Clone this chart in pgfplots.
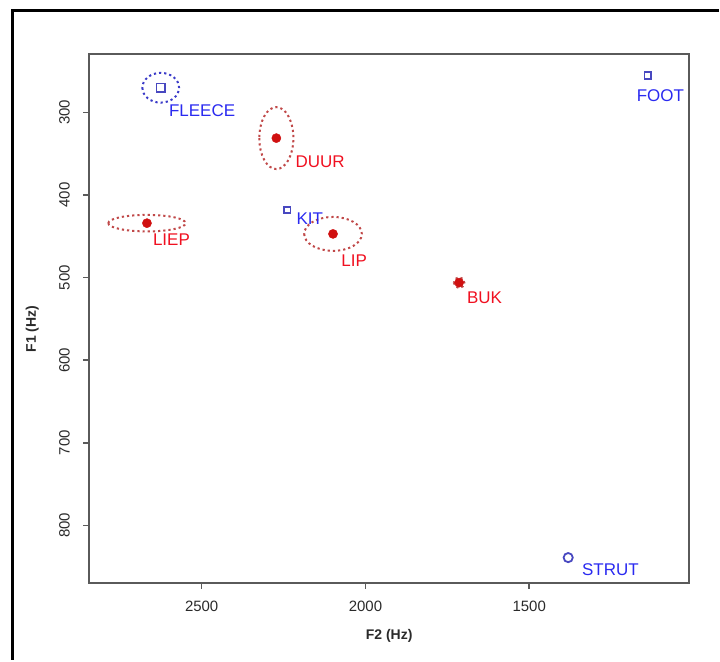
\documentclass[border=0pt]{standalone}
\usepackage{pgfplots}
\pgfplotsset{compat=1.18}
\usepackage{fontspec}
\setmainfont{Liberation Sans}
\definecolor{axgray}{HTML}{5A5A5A}
\definecolor{tickgray}{HTML}{2A2A2A}
\definecolor{lblue}{HTML}{2A2AF0}
\definecolor{lred}{HTML}{F01020}
\definecolor{mblue}{HTML}{4848C0}
\definecolor{mred}{HTML}{D01010}
\definecolor{eblue}{HTML}{3A3AC8}
\definecolor{ered}{HTML}{C04848}
\begin{document}
\begin{tikzpicture}[x=1pt,y=1pt]
\path (0,0) rectangle (720,661);
\draw[black, line width=3pt] (13,0) -- (13,650) -- (720,650);
\begin{axis}[
  at={(390pt,342pt)}, anchor=center,
  scale only axis, width=601pt, height=530pt,
  x dir=reverse, y dir=reverse,
  xmin=1012, xmax=2843, ymin=229, ymax=869.5,
  xtick={1500,2000,2500}, ytick={300,400,500,600,700,800},
  tick pos=left, tick align=outside,
  major tick length=6pt,
  axis line style={axgray, line width=2pt},
  every tick/.style={axgray, line width=1.5pt},
  /pgf/number format/assume math mode=true,
  /pgf/number format/set thousands separator={},
  ticklabel style={font=\fontsize{15}{15}\selectfont, text=tickgray},
  xticklabel style={yshift=-9pt},
  yticklabel style={xshift=-10pt, rotate=90, anchor=south},
  xlabel={\textbf{F2 (Hz)}}, ylabel={\textbf{F1 (Hz)}},
  every axis x label/.style={at={(axis description cs:0.5,-0.1)}, anchor=center},
  every axis y label/.style={at={(axis description cs:-0.095,0.48)}, anchor=center, rotate=90},
  label style={font=\fontsize{14}{14}\selectfont, text=tickgray},
  clip=false,
]
% ellipses
\draw[eblue, line width=2pt, dash pattern=on 2.2pt off 3pt] (axis cs:2625,270) ellipse [x radius=56, y radius=18];
\draw[ered, line width=2pt, dash pattern=on 2.2pt off 3pt] (axis cs:2272,331) ellipse [x radius=52, y radius=37.5];
\draw[ered, line width=2pt, dash pattern=on 2.2pt off 3pt] (axis cs:2667,434) ellipse [x radius=118, y radius=10];
\draw[ered, line width=2pt, dash pattern=on 2.2pt off 3pt] (axis cs:2099,447) ellipse [x radius=88, y radius=20.5];
\draw[ered, line width=2pt, dash pattern=on 2.2pt off 3pt] (axis cs:1714,506) ellipse [x radius=16, y radius=6.5];
% blue markers
\addplot[only marks, mark=square, mark size=4.3pt, mblue, line width=1.8pt] coordinates {(2625,270)};
\addplot[only marks, mark=square, mark size=3.3pt, mblue, line width=1.8pt] coordinates {(2239,418) (1138,255)};
\addplot[only marks, mark=o, mark size=4.6pt, mblue, line width=1.8pt] coordinates {(1381,839)};
% red points
\addplot[only marks, mark=*, mark size=4.6pt, mred] coordinates {(2272,331) (2667,434) (2099,447) (1714,506)};
% labels
\begin{scope}[every node/.style={anchor=west, inner sep=0pt, font=\fontsize{17}{17}\selectfont}]
\node[text=lblue] at (axis cs:2600,298) {FLEECE};
\node[text=lblue] at (axis cs:2211,429) {KIT};
\node[text=lblue] at (axis cs:1172,279) {FOOT};
\node[text=lblue] at (axis cs:1339,854) {STRUT};
\node[text=lred] at (axis cs:2214,360) {DUUR};
\node[text=lred] at (axis cs:2649,454) {LIEP};
\node[text=lred] at (axis cs:2074,480) {LIP};
\node[text=lred] at (axis cs:1690,524) {BUK};
\end{scope}
\end{axis}
\end{tikzpicture}
\end{document}
